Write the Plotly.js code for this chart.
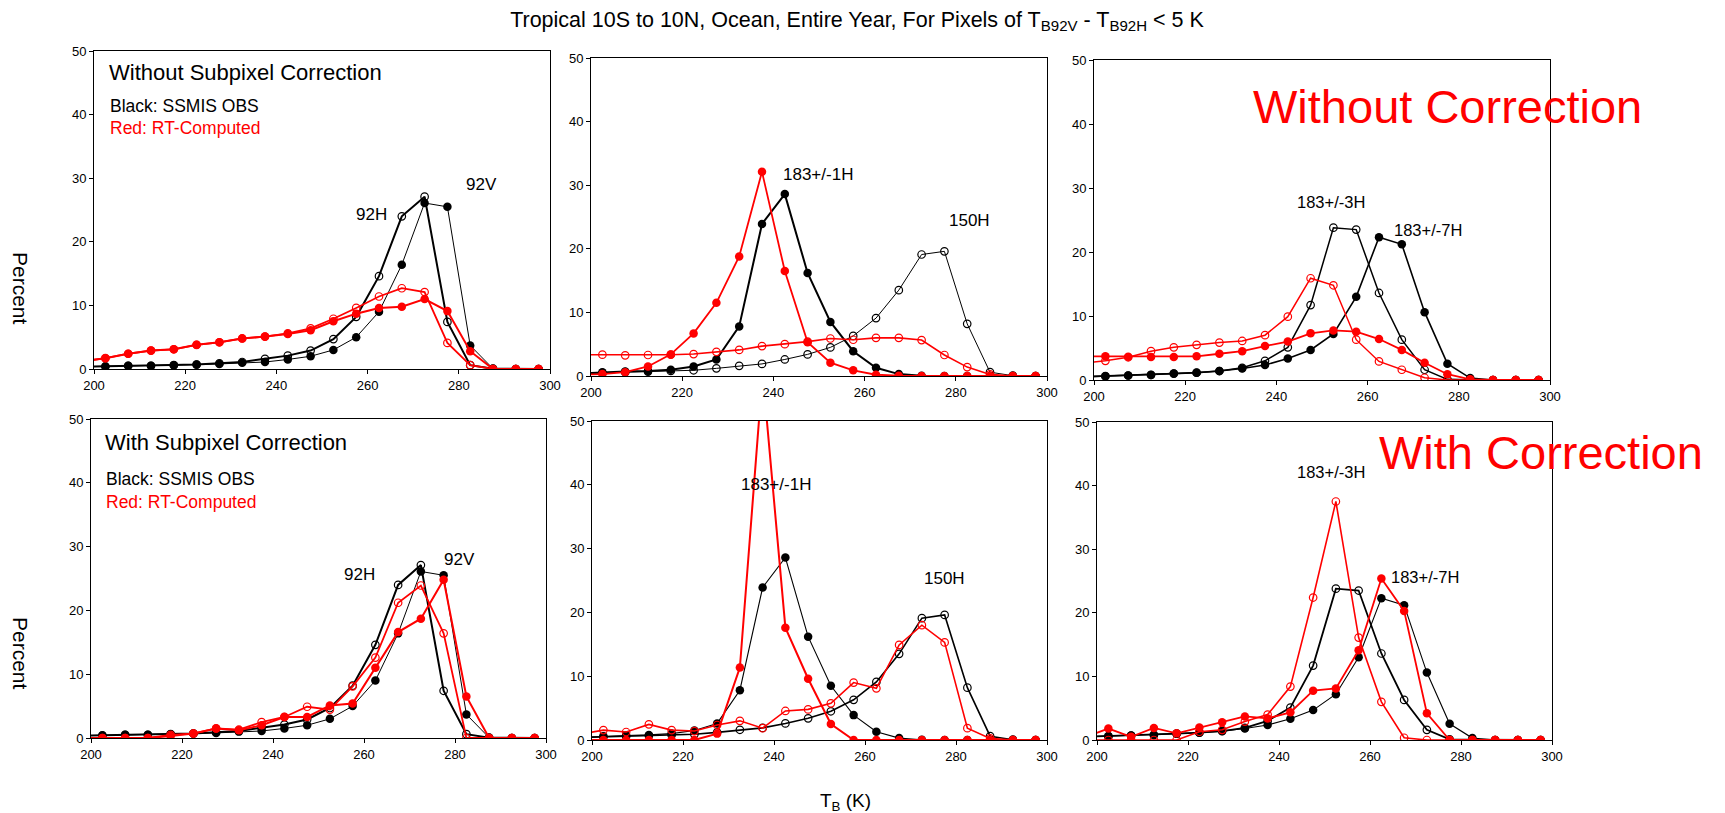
<!DOCTYPE html>
<html>
<head>
<meta charset="utf-8">
<script src="https://cdn.plot.ly/plotly-3.0.1.min.js"></script>
<style>
html,body{margin:0;padding:0;background:#fff;}
#chart{width:1725px;height:813px;}
</style>
</head>
<body>
<div id="chart"></div>
<script>
// Brightness temperature bin centres (K)
const TB = [197.5, 202.5, 207.5, 212.5, 217.5, 222.5, 227.5, 232.5, 237.5, 242.5, 247.5,
            252.5, 257.5, 262.5, 267.5, 272.5, 277.5, 282.5, 287.5, 292.5, 297.5];

// ---- SSMIS observations (black), same in both rows ----
const obs92H   = [0.35, 0.4, 0.5, 0.5, 0.6, 0.7, 0.9, 1.1, 1.6, 2.1, 2.9, 4.7, 8.2, 14.6, 24.0, 27.1, 7.4, 0.6, 0.05, 0, 0];
const obs92V   = [0.35, 0.4, 0.5, 0.5, 0.6, 0.7, 0.8, 1.0, 1.1, 1.5, 2.0, 3.0, 5.0, 9.0, 16.4, 26.1, 25.5, 3.7, 0.05, 0, 0];
const obs183_1H = [0.4, 0.6, 0.7, 0.8, 1.0, 1.5, 2.6, 7.8, 23.9, 28.6, 16.2, 8.5, 3.9, 1.3, 0.3, 0.05, 0, 0, 0, 0, 0];
const obs150H  = [0.4, 0.5, 0.6, 0.7, 0.8, 0.9, 1.2, 1.6, 1.9, 2.6, 3.4, 4.5, 6.3, 9.1, 13.5, 19.1, 19.6, 8.2, 0.6, 0.05, 0];
const obs183_3H = [0.5, 0.6, 0.7, 0.8, 1.0, 1.15, 1.4, 1.9, 3.0, 5.1, 11.7, 23.8, 23.5, 13.6, 6.3, 1.6, 0.1, 0.05, 0, 0, 0];
const obs183_7H = [0.5, 0.6, 0.7, 0.8, 1.0, 1.15, 1.4, 1.8, 2.35, 3.35, 4.7, 7.2, 13.0, 22.3, 21.2, 10.6, 2.55, 0.3, 0, 0, 0];

// ---- RT-computed, without subpixel correction (red) ----
const rt92H_noCorr    = [1.2, 1.7, 2.4, 2.9, 3.1, 3.8, 4.2, 4.8, 5.1, 5.6, 6.4, 7.9, 9.6, 11.4, 12.7, 12.1, 4.1, 0.6, 0, 0, 0];
const rt92V_noCorr    = [1.2, 1.7, 2.4, 2.9, 3.1, 3.8, 4.2, 4.8, 5.1, 5.5, 6.1, 7.5, 8.7, 9.6, 9.8, 11.0, 9.1, 2.8, 0, 0, 0];
const rt183_1H_noCorr = [0.2, 0.3, 0.6, 1.5, 3.4, 6.7, 11.5, 18.8, 32.1, 16.5, 5.3, 2.1, 0.9, 0.2, 0.05, 0, 0, 0, 0, 0, 0];
const rt150H_noCorr   = [3.35, 3.35, 3.25, 3.3, 3.35, 3.45, 3.8, 4.1, 4.7, 5.0, 5.4, 5.9, 5.7, 6.0, 6.0, 5.65, 3.3, 1.4, 0.25, 0, 0];
const rt183_3H_noCorr = [2.6, 3.0, 3.55, 4.5, 5.1, 5.5, 5.85, 6.1, 7.0, 9.9, 15.9, 14.8, 6.3, 2.9, 1.6, 0.35, 0, 0, 0, 0, 0];
const rt183_7H_noCorr = [3.7, 3.7, 3.65, 3.6, 3.6, 3.7, 4.1, 4.5, 5.3, 6.0, 7.3, 7.75, 7.55, 6.4, 4.7, 2.7, 0.9, 0.1, 0, 0, 0];

// ---- RT-computed, with subpixel correction (red) ----
const rt92H_corr    = [0, 0, 0, 0, 0.5, 0.7, 1.5, 1.3, 2.5, 3.3, 4.9, 4.45, 8.1, 12.6, 21.2, 23.9, 16.4, 0, 0, 0, 0];
const rt92V_corr    = [0, 0, 0, 0, 0.3, 0.7, 1.5, 1.2, 2.0, 3.3, 3.3, 5.1, 5.4, 11.0, 16.6, 18.7, 24.8, 6.5, 0, 0, 0];
const rt183_1H_corr = [0, 0, 0, 0, 0, 0, 1.0, 11.35, 57.5, 17.6, 9.6, 2.5, 0, 0, 0, 0, 0, 0, 0, 0, 0];
const rt150H_corr   = [0.9, 1.55, 1.25, 2.45, 1.55, 1.4, 2.35, 3.0, 1.85, 4.55, 4.8, 5.75, 9.0, 8.1, 14.9, 18.0, 15.3, 1.85, 0.25, 0, 0];
const rt183_3H_corr = [0, 0, 0, 0, 0, 1.3, 1.6, 2.9, 4.0, 8.4, 22.4, 37.5, 16.1, 6.0, 0.35, 0, 0, 0, 0, 0, 0];
const rt183_7H_corr = [0.5, 1.8, 0.5, 1.9, 1.05, 1.95, 2.8, 3.7, 3.4, 4.35, 7.75, 8.1, 14.1, 25.4, 20.3, 4.2, 0, 0, 0, 0, 0];

// Axis ticks
const xTicks = [200, 220, 240, 260, 280, 300];
const yTicks = [0, 10, 20, 30, 40, 50];

// ----------------------------------------------------------------
const W = 1725, H = 813;
const FONT = '"Liberation Sans", Arial, Helvetica, sans-serif';
const BLACK = '#000000', RED = '#ff0000';

// panel boxes in pixels [x0,x1,y0(top),y1(bottom)]
const boxes = [
  [94, 550, 51, 369], [591, 1047, 58, 376], [1094, 1550, 60, 380],
  [91, 546, 419, 738], [592, 1047, 421, 740], [1097, 1552, 422, 740]
];

const traces = [];
function series(p, y, color, open, width) {
  const sfx = p === 0 ? '' : String(p + 1);
  traces.push({
    type: 'scatter', mode: 'lines+markers',
    x: TB, y: y, xaxis: 'x' + sfx, yaxis: 'y' + sfx,
    line: {color: color, width: width},
    marker: open ? {symbol: 'circle-open', size: 7.5, color: color, line: {width: 1.2, color: color}}
                 : {symbol: 'circle', size: 8.5, color: color},
    showlegend: false, hoverinfo: 'x+y'
  });
}

// Panel 1: 92 GHz, without correction
series(0, obs92H, BLACK, true, 2);
series(0, obs92V, BLACK, false, 1);
series(0, rt92H_noCorr, RED, true, 1.8);
series(0, rt92V_noCorr, RED, false, 2);
// Panel 2
series(1, obs150H, BLACK, true, 1);
series(1, obs183_1H, BLACK, false, 2);
series(1, rt150H_noCorr, RED, true, 1.6);
series(1, rt183_1H_noCorr, RED, false, 1.8);
// Panel 3
series(2, obs183_3H, BLACK, true, 1.5);
series(2, obs183_7H, BLACK, false, 1.6);
series(2, rt183_3H_noCorr, RED, true, 1.5);
series(2, rt183_7H_noCorr, RED, false, 1.8);
// Panel 4
series(3, obs92H, BLACK, true, 2);
series(3, obs92V, BLACK, false, 1);
series(3, rt92H_corr, RED, true, 1.8);
series(3, rt92V_corr, RED, false, 2);
// Panel 5
series(4, obs150H, BLACK, true, 1.6);
series(4, obs183_1H, BLACK, false, 1.1);
series(4, rt150H_corr, RED, true, 1.6);
series(4, rt183_1H_corr, RED, false, 2);
// Panel 6
series(5, obs183_3H, BLACK, true, 1.8);
series(5, obs183_7H, BLACK, false, 1.1);
series(5, rt183_3H_corr, RED, true, 1.6);
series(5, rt183_7H_corr, RED, false, 1.8);

const layout = {
  width: W, height: H,
  margin: {l: 0, r: 0, t: 0, b: 0},
  paper_bgcolor: '#ffffff', plot_bgcolor: '#ffffff',
  font: {family: FONT, color: '#000', size: 13},
  title: {
    text: 'Tropical 10S to 10N, Ocean, Entire Year, For Pixels of T<sub>B92V</sub> - T<sub>B92H</sub> < 5 K',
    x: 857 / W, y: 1 - 19 / H, xanchor: 'center', yanchor: 'middle', xref: 'paper', yref: 'paper',
    font: {family: FONT, size: 21.5, color: '#000'}
  },
  annotations: [],
  showlegend: false
};

boxes.forEach((b, i) => {
  const sfx = i === 0 ? '' : String(i + 1);
  layout['xaxis' + sfx] = {
    domain: [b[0] / W, b[1] / W], anchor: 'y' + sfx,
    range: [200, 300], tickvals: xTicks, ticktext: xTicks.map(String),
    showline: true, mirror: true, linecolor: '#000', linewidth: 1,
    ticks: 'outside', ticklen: 4, tickcolor: '#000', showgrid: false, zeroline: false,
    tickfont: {family: FONT, size: 13, color: '#000'}, fixedrange: true
  };
  layout['yaxis' + sfx] = {
    domain: [1 - b[3] / H, 1 - b[2] / H], anchor: 'x' + sfx,
    range: [0, 50], tickvals: yTicks, ticktext: yTicks.map(String),
    showline: true, mirror: true, linecolor: '#000', linewidth: 1,
    ticks: 'outside', ticklen: 4, tickcolor: '#000', showgrid: false, zeroline: false,
    tickfont: {family: FONT, size: 13, color: '#000'}, fixedrange: true
  };
});

function note(text, px, py, size, color, opts) {
  layout.annotations.push(Object.assign({
    text: text, x: px / W, y: 1 - py / H, xref: 'paper', yref: 'paper',
    xanchor: 'center', yanchor: 'middle', showarrow: false,
    font: {family: FONT, size: size, color: color}
  }, opts || {}));
}

// Panel texts
note('Without Subpixel Correction', 107, 72, 22, BLACK, {xanchor: 'left'});
note('Black: SSMIS OBS', 108, 106, 17.5, BLACK, {xanchor: 'left'});
note('Red: RT-Computed', 108, 128, 17.5, RED, {xanchor: 'left'});
note('92H', 371, 215, 17, BLACK);
note('92V', 482, 184, 17, BLACK);
note('183+/-1H', 818, 174, 17, BLACK);
note('150H', 969, 220, 17, BLACK);
note('183+/-3H', 1331, 202, 16.5, BLACK);
note('183+/-7H', 1428, 230, 16.5, BLACK);
note('Without Correction', 1447, 106, 47, RED);

note('With Subpixel Correction', 103, 443, 22, BLACK, {xanchor: 'left'});
note('Black: SSMIS OBS', 104, 479, 17.5, BLACK, {xanchor: 'left'});
note('Red: RT-Computed', 104, 502, 17.5, RED, {xanchor: 'left'});
note('92H', 359, 574, 17, BLACK);
note('92V', 459, 559, 17, BLACK);
note('183+/-1H', 776, 484, 17, BLACK);
note('150H', 945, 578, 17, BLACK);
note('183+/-3H', 1331, 472, 16.5, BLACK);
note('183+/-7H', 1425, 577, 16.5, BLACK);
note('With Correction', 1541, 452, 47, RED);

// Axis titles
note('Percent', 21, 288, 21, BLACK, {textangle: 90});
note('Percent', 21, 653, 21, BLACK, {textangle: 90});
note('T<sub>B</sub> (K)', 845, 802, 19, BLACK);

Plotly.newPlot('chart', traces, layout, {staticPlot: true, displayModeBar: false});
</script>
</body>
</html>
